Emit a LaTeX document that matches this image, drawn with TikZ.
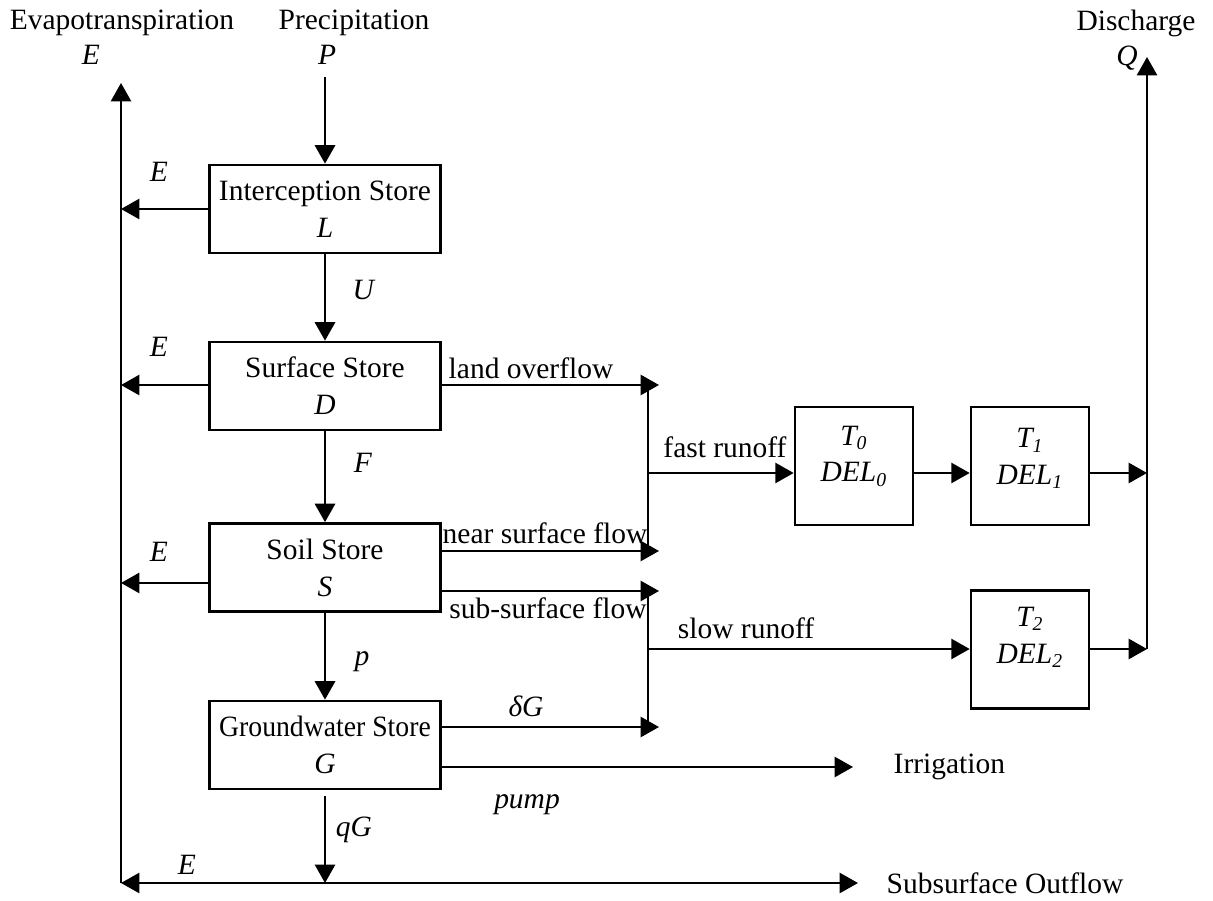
\documentclass[tikz,border=0pt]{standalone}
\usepackage{graphicx}
\usepackage{fontspec}
\setmainfont{Liberation Serif}
\usetikzlibrary{arrows.meta,positioning}

\begin{document}
\begin{tikzpicture}[
  x=0.407pt, y=-0.407pt, font=\fontsize{12}{15}\selectfont,
  store/.style={draw, line width=1.1pt, align=center, minimum width=94pt, minimum height=35.8pt, inner sep=0pt},
  delay/.style={draw, line width=1.1pt, minimum width=48pt, minimum height=48pt, inner sep=0pt},
  flow/.style={-{Triangle[length=7.5pt,width=8.2pt]}, line width=1pt},
  pipe/.style={line width=1pt},
  lab/.style={inner sep=0pt}
]
\useasboundingbox (0,0) rectangle (1213,901);

% stores
\node[store] (icpt) at (325,209) {Interception Store\\\textit{L}};
\node[store] (surf) at (325,386) {Surface Store\\\textit{D}};
\node[store] (soil) at (325,567.5) {Soil Store\\\textit{S}};
\node[store] (gw) at (325,745) {\scalebox{0.94}[1]{Groundwater Store}\\\textit{G}};

% routing delays
\node[delay] (del0) at (854,466) {};
\node[delay] (del1) at (1030,466) {};
\node[delay] (del2) at (1030,649.5) {};
\node[align=center] (del0txt) at ([yshift=4pt]del0.center) {\textit{T\textsubscript{0}}\\\textit{DEL\textsubscript{0}}};
\node[align=center] (del1txt) at ([yshift=3pt]del1.center) {\textit{T\textsubscript{1}}\\\textit{DEL\textsubscript{1}}};
\node[align=center] (del2txt) at ([yshift=5pt]del2.center) {\textit{T\textsubscript{2}}\\\textit{DEL\textsubscript{2}}};

% outer texts
\node (evap) at (122,23) {Evapotranspiration};
\node (evapE) at (91,55) {\textit{E}};
\node (prec) at (354,23) {Precipitation};
\node (precP) at (327,55) {\textit{P}};
\node (disch) at (1136,23) {Discharge};
\node (dischQ) at (1127,58) {\textit{Q}};
\node[anchor=west] (irrtxt) at (885,767) {Irrigation};
\node[anchor=west] (subtxt) at (878,883) {Subsurface Outflow};

% junction points
\coordinate (ptop) at (325,77);
\coordinate (etop) at (121,83);
\coordinate (ebot) at (121,883);
\coordinate (qtop) at (1147,57);
\coordinate (qT1) at (1147,473);
\coordinate (qT2) at (1147,649);
\coordinate (landEnd) at (659,385);
\coordinate (nearEnd) at (659,551);
\coordinate (subEnd) at (659,591);
\coordinate (dgEnd) at (659,727);
\coordinate (fastT) at (648,385);
\coordinate (fastB) at (648,551);
\coordinate (fastM) at (648,473);
\coordinate (slowT) at (648,591);
\coordinate (slowB) at (648,727);
\coordinate (slowM) at (648,649);
\coordinate (irrEnd) at (853,767);
\coordinate (gwout) at (325,883);
\coordinate (subEndB) at (858,883);

% vertical flows
\draw[flow] (ptop) -- (icpt.north);
\draw[flow] (icpt) -- (surf);
\draw[flow] (surf) -- (soil);
\draw[flow] (soil) -- (gw);
\draw[flow] ([yshift=-2.5pt]gw.south) -- (gwout);
\node[lab] (uLab) at (364,290) {\textit{U}};
\node[lab] (fLab) at (363,463) {\textit{F}};
\node[lab] (pLab) at (362,662) {\textit{p}};
\node[lab] (qgLab) at (354,830) {\textit{qG}};

% evapotranspiration
\draw[flow] (icpt.west) -- (icpt.west -| etop);
\draw[flow] ([yshift=0.4pt]surf.west) -- ([yshift=0.4pt]surf.west -| etop);
\draw[flow] ([yshift=-6.3pt]soil.west) -- ([yshift=-6.3pt]soil.west -| etop);
\draw[flow] (gwout) -- (ebot);
\draw[flow] (ebot) -- (etop);
\node[lab] (e1) at (159,172) {\textit{E}};
\node[lab] (e2) at (159,347) {\textit{E}};
\node[lab] (e3) at (159,552) {\textit{E}};
\node[lab] (e4) at (187,865) {\textit{E}};

% lateral flows
\draw[flow] (surf.east |- landEnd) -- (landEnd);
\draw[flow] (soil.east |- nearEnd) -- (nearEnd);
\draw[flow] (soil.east |- subEnd) -- (subEnd);
\draw[flow] (gw.east |- dgEnd) -- (dgEnd);
\draw[flow] (gw.east |- irrEnd) -- (irrEnd);
\draw[flow] (gwout) -- (subEndB);
\node[lab] (landLab) at (531,368) {land overflow};
\node[lab] (nearLab) at (545,533) {near surface flow};
\node[lab] (subLab) at (548,608) {sub-surface flow};
\node[lab] (dgLab) at (526,706) {\textit{δG}};
\node[lab] (pumpLab) at (527,805) {\textit{pump}};

% runoff routing
\draw[pipe] (fastT) -- (fastB);
\draw[pipe] (slowT) -- (slowB);
\draw[flow] (fastM) -- (del0.west |- fastM);
\draw[flow] (del0.east |- fastM) -- (del1.west |- fastM);
\draw[flow] (del1.east |- fastM) -- (qT1);
\draw[flow] (slowM) -- (del2.west |- slowM);
\draw[flow] (del2.east |- slowM) -- (qT2);
\draw[flow] (qT2) -- (qtop);
\node[lab] (fastLab) at (725,447) {fast runoff};
\node[lab] (slowLab) at (746,628) {slow runoff};
\end{tikzpicture}
\end{document}
